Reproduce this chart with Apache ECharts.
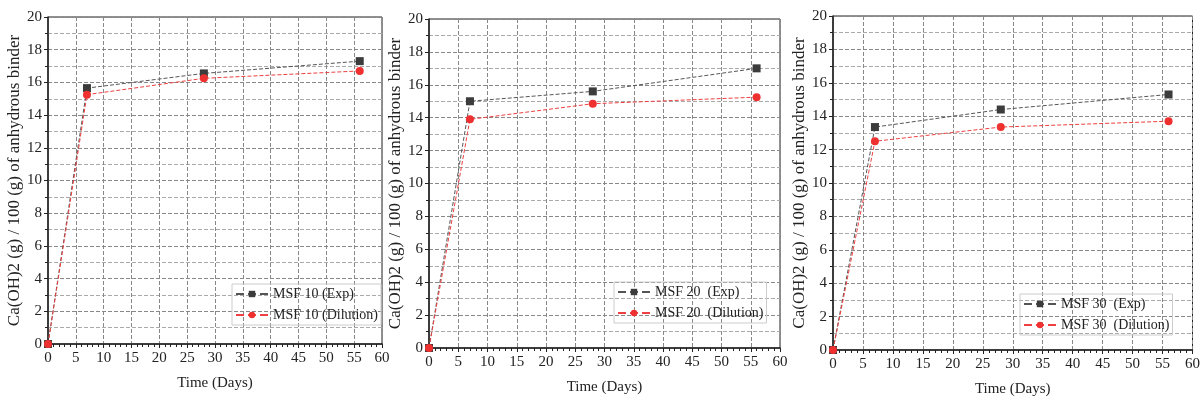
<!DOCTYPE html>
<html>
<head>
<meta charset="utf-8">
<script src="https://cdn.jsdelivr.net/npm/echarts@6/dist/echarts.min.js"></script>
<style>html,body{margin:0;padding:0;background:#fff}#c{width:1203px;height:402px}</style>
</head>
<body>
<div id="c"></div>
<script>
const days = [0, 7, 28, 56];
const msf10Exp = [0, 15.65, 16.55, 17.3];
const msf10Dil = [0, 15.25, 16.25, 16.7];
const msf20Exp = [0, 15.0, 15.6, 17.0];
const msf20Dil = [0, 13.9, 14.85, 15.25];
const msf30Exp = [0, 13.35, 14.4, 15.3];
const msf30Dil = [0, 12.5, 13.35, 13.7];
const names = [
  ['MSF 10 (Exp)', 'MSF 10 (Dilution)'],
  ['MSF 20  (Exp)', 'MSF 20  (Dilution)'],
  ['MSF 30  (Exp)', 'MSF 30  (Dilution)']
];
const xTitle = 'Time (Days)';
const yTitle = 'Ca(OH)2 (g) / 100 (g) of anhydrous binder';

const FONT = '"Liberation Serif", "DejaVu Serif", serif';
const grids = [
  {left: 48, right: 821, top: 17, bottom: 58},
  {left: 429, right: 423, top: 19, bottom: 54},
  {left: 833, right: 10, top: 16, bottom: 52}
];
const legendPos = [
  {left: 232, top: 284},
  {left: 614, top: 282},
  {left: 1020, top: 294}
];
const seriesData = [[msf10Exp, msf10Dil], [msf20Exp, msf20Dil], [msf30Exp, msf30Dil]];

const option = {
  backgroundColor: '#fff',
  animation: false,
  grid: grids.map(g => Object.assign({show: true, borderColor: '#222', borderWidth: 1}, g)),
  xAxis: grids.map((g, i) => ({
    type: 'value', gridIndex: i, min: 0, max: 60, interval: 5,
    name: xTitle, nameLocation: 'middle', nameGap: 32,
    nameTextStyle: {fontFamily: FONT, fontSize: 15, color: '#222'},
    axisLine: {lineStyle: {color: '#222', width: 1.5}},
    axisTick: {show: true, inside: false, length: 4, lineStyle: {color: '#222'}},
    minorTick: {show: true, splitNumber: 5, length: 3, lineStyle: {color: '#222'}},
    axisLabel: {fontFamily: FONT, fontSize: 15, color: '#222', margin: 7},
    splitLine: {show: true, lineStyle: {type: 'dashed', color: '#888', width: 1}}
  })),
  yAxis: grids.map((g, i) => ({
    type: 'value', gridIndex: i, min: 0, max: 20, interval: 2,
    name: yTitle, nameLocation: 'middle', nameGap: 25, nameRotate: 90,
    nameTextStyle: {fontFamily: FONT, fontSize: 17, color: '#222'},
    axisLine: {lineStyle: {color: '#222', width: 1.5}},
    axisTick: {show: true, inside: false, length: 4, lineStyle: {color: '#222'}},
    minorTick: {show: true, splitNumber: 2, length: 3, lineStyle: {color: '#222'}},
    axisLabel: {fontFamily: FONT, fontSize: 15, color: '#222', margin: 6},
    splitLine: {show: true, lineStyle: {type: 'dashed', color: '#888', width: 1}},
    minorSplitLine: {show: true, lineStyle: {type: 'dashed', color: '#aaa', width: 1}}
  })),
  legend: legendPos.map((p, i) => ({
    left: p.left, top: p.top, orient: 'vertical', itemWidth: 32, itemHeight: 8, itemGap: 7,
    padding: [3, 3, 3, 3], borderColor: '#ccc', borderWidth: 1,
    data: names[i],
    textStyle: {fontFamily: FONT, fontSize: 14, color: '#222'}
  })),
  series: []
};
for (let i = 0; i < 3; i++) {
  const [e, d] = seriesData[i];
  option.series.push({
    type: 'line', name: names[i][0], xAxisIndex: i, yAxisIndex: i,
    data: days.map((x, k) => [x, e[k]]),
    symbol: 'rect', symbolSize: 8,
    itemStyle: {color: '#3c3c3c'},
    lineStyle: {type: 'dashed', width: 1, color: '#555'}
  });
  option.series.push({
    type: 'line', name: names[i][1], xAxisIndex: i, yAxisIndex: i,
    data: days.map((x, k) => [x, d[k]]),
    symbol: 'circle', symbolSize: 8,
    itemStyle: {color: '#ee3030'},
    lineStyle: {type: 'dashed', width: 1, color: '#ee4040'}
  });
}
const chart = echarts.init(document.getElementById('c'), null, {renderer: 'canvas'});
chart.setOption(option);
</script>
</body>
</html>
